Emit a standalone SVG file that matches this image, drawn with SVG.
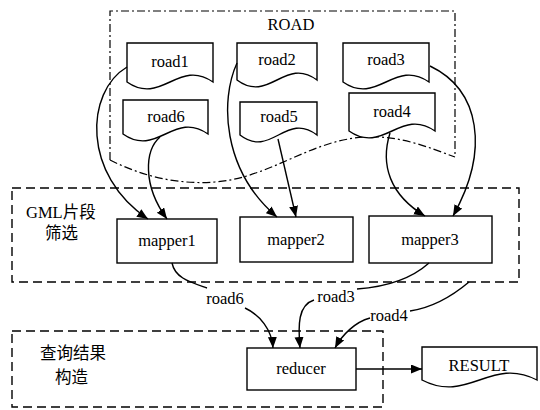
<svg xmlns="http://www.w3.org/2000/svg" width="540" height="410" viewBox="0 0 540 410">
<style>
text{font-family:"Liberation Serif","Noto Sans CJK SC",serif;font-size:16.5px;fill:#000;text-anchor:middle}
.cj{text-anchor:start}
.doc,.box{fill:#fff;stroke:#000;stroke-width:1.4}
.grp{fill:none;stroke:#000;stroke-width:1.4;stroke-dasharray:9,5}
.dd{fill:none;stroke:#000;stroke-width:1.2;stroke-dasharray:8,3,2,3}
.c{fill:none;stroke:#000;stroke-width:1.4}
.a{marker-end:url(#ah)}
</style>
<defs>
<marker id="ah" markerUnits="userSpaceOnUse" markerWidth="12" markerHeight="10" refX="11" refY="4.5" orient="auto">
<path d="M0,0 L11,4.5 L0,9 z" fill="#000"/>
</marker>
</defs>
<rect width="540" height="410" fill="#fff"/>
<g id="road-group">
<path class="dd" d="M110,160 V11 H455 V157"/>
<path class="dd" d="M110,160 C140,175 175,185 215,182 C270,178 310,140 365,137 C400,135 430,148 455,157"/>
<text x="291" y="30">ROAD</text>
</g>
<g id="gml-group">
<rect class="grp" x="12" y="188" width="507" height="94"/>
<text class="cj" x="26" y="218">GML片段</text>
<text class="cj" x="45" y="239">筛选</text>
</g>
<g id="reduce-group">
<rect class="grp" x="12" y="331" width="371" height="76"/>
<text class="cj" x="40" y="359">查询结果</text>
<text class="cj" x="55" y="383">构造</text>
</g>
<g id="road1"><path class="doc" d="M127,43 H213 V82 C178.6,58 161.4,106 127,82 Z"/><text x="170" y="67">road1</text></g>
<g id="road2"><path class="doc" d="M237,43 H317 V80 C285,56 269,104 237,80 Z"/><text x="277" y="65">road2</text></g>
<g id="road3"><path class="doc" d="M343,43 H429 V82 C394.6,58 377.4,106 343,82 Z"/><text x="386" y="65">road3</text></g>
<g id="road6"><path class="doc" d="M123,100 H208 V134 C174,110 157,158 123,134 Z"/><text x="166" y="122">road6</text></g>
<g id="road5"><path class="doc" d="M240,102 H317 V135 C286,111 271,159 240,135 Z"/><text x="279" y="122">road5</text></g>
<g id="road4"><path class="doc" d="M349,93 H435 V131 C400.6,107 383.4,155 349,131 Z"/><text x="392" y="117">road4</text></g>
<g id="mapper1"><rect class="box" x="117" y="219" width="100" height="44"/><text x="167" y="246">mapper1</text></g>
<g id="mapper2"><rect class="box" x="240" y="217" width="113" height="45"/><text x="296" y="245">mapper2</text></g>
<g id="mapper3"><rect class="box" x="369" y="216" width="123" height="47"/><text x="430" y="245">mapper3</text></g>
<g id="reducer"><rect class="box" x="247" y="348" width="109" height="42"/><text x="301" y="374">reducer</text></g>
<g id="result"><path class="doc" d="M422,347 H537 V380 C491,356 468,404 422,380 Z"/><text x="479" y="371">RESULT</text></g>
<g id="connectors">
<path class="c a" d="M127,67 C85,92 82,175 148,219"/>
<path class="c a" d="M160,137 C145,150 142,185 167,219"/>
<path class="c a" d="M237,63 C220,100 222,170 277,217"/>
<path class="c a" d="M278,139 L296,217"/>
<path class="c a" d="M390,133 C380,165 390,195 425,216"/>
<path class="c a" d="M430,66 C480,90 490,150 453,216"/>
<path class="c" d="M172,263 C175,278 190,282 207,288"/>
<path class="c a" d="M245,308 C260,315 272,330 273,348"/>
<path class="c" d="M429,263 C410,280 385,287 357,289"/>
<path class="c a" d="M314,300 C298,305 298,325 300,348"/>
<path class="c" d="M469,282 C450,298 430,308 410,311"/>
<path class="c a" d="M370,318 C355,322 342,335 335,348"/>
<path class="c a" d="M356,369 L422,369"/>
<text x="225" y="304">road6</text>
<text x="336" y="302">road3</text>
<text x="389" y="321">road4</text>
</g>
</svg>
